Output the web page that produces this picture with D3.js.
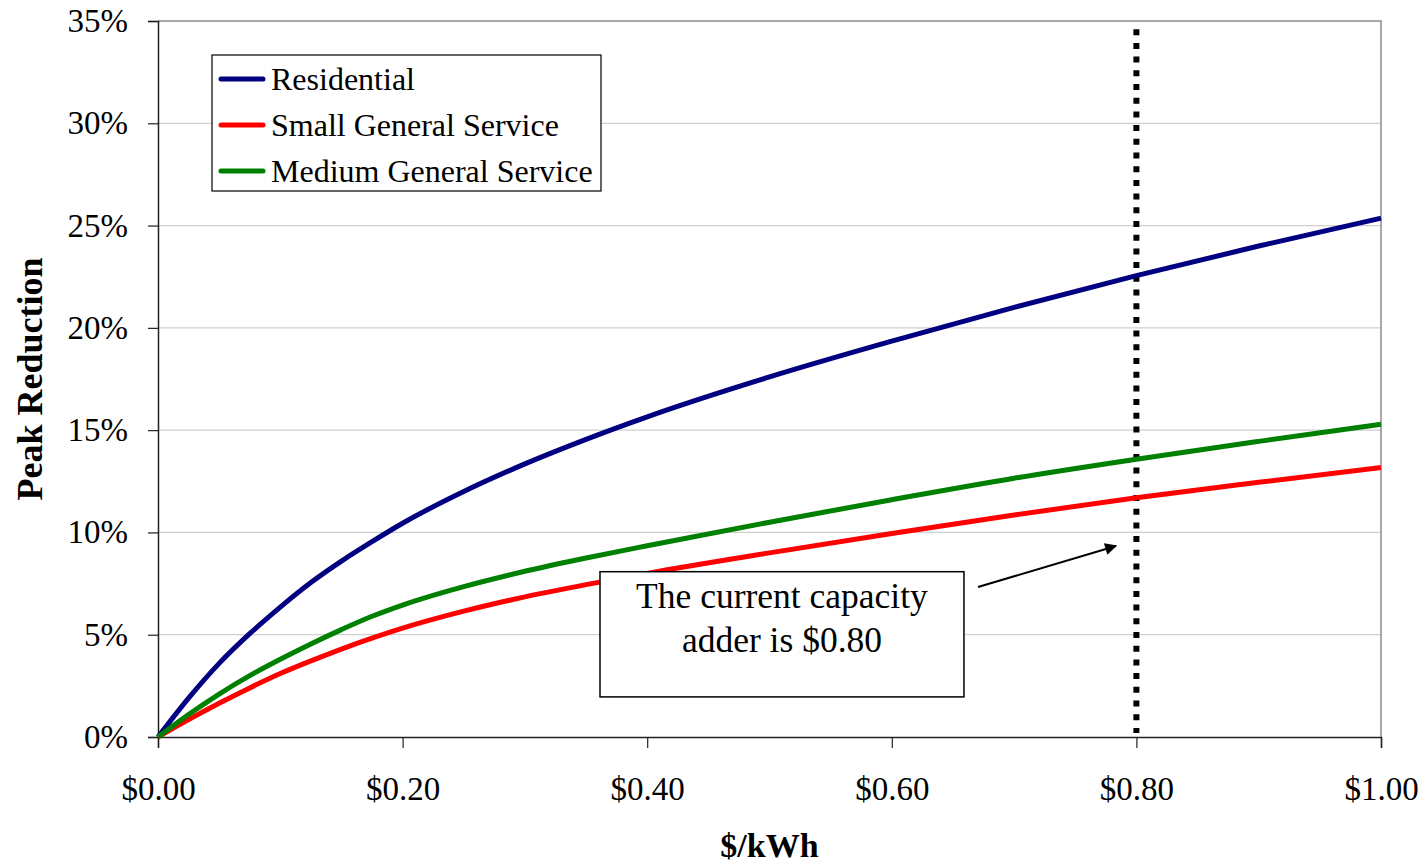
<!DOCTYPE html>
<html>
<head>
<meta charset="utf-8">
<script src="https://cdn.jsdelivr.net/npm/d3@7"></script>
<style>
  body { margin: 0; background: #fff; }
  svg text { font-family: "Liberation Serif", "Times New Roman", serif; fill: #000; }
</style>
</head>
<body>
<div id="chart"></div>
<script>
// price points ($/kWh)
const prices = [0, 0.025, 0.05, 0.075, 0.1, 0.125, 0.15, 0.175, 0.2, 0.25, 0.3, 0.35, 0.4, 0.5, 0.6, 0.7, 0.8, 0.9, 1.0];
// peak reduction (%) per class
const residential = [0, 1.9, 3.6, 5.05, 6.35, 7.55, 8.6, 9.55, 10.45, 12.0, 13.35, 14.55, 15.65, 17.6, 19.35, 21.0, 22.55, 24.0, 25.36];
const smallGS     = [0, 0.85, 1.65, 2.4, 3.1, 3.72, 4.3, 4.83, 5.32, 6.15, 6.85, 7.45, 8.0, 9.0, 9.95, 10.85, 11.7, 12.45, 13.17];
const mediumGS    = [0, 1.1, 2.1, 3.0, 3.8, 4.55, 5.25, 5.9, 6.45, 7.35, 8.1, 8.75, 9.35, 10.5, 11.6, 12.65, 13.58, 14.45, 15.29];

const seriesNames = ["Residential", "Small General Service", "Medium General Service"];
const seriesColors = ["#000080", "#ff0000", "#008000"];
const seriesValues = [residential, smallGS, mediumGS];

const xTicks = [0, 0.2, 0.4, 0.6, 0.8, 1.0];
const yTicks = [0, 5, 10, 15, 20, 25, 30, 35];

const capacityAdder = 0.8;
const noteLines = ["The current capacity", "adder is $0.80"];

// chart size
const W = 1426, H = 866;
const margin = {top: 21, right: 45, bottom: 129, left: 158};
const width = W - margin.left - margin.right;
const height = H - margin.top - margin.bottom;

const svg = d3.select("#chart").append("svg")
  .attr("width", W)
  .attr("height", H);

const g = svg.append("g")
  .attr("transform", `translate(${margin.left},${margin.top})`);

const x = d3.scaleLinear().domain([0, 1]).range([0, width]);
const y = d3.scaleLinear().domain([0, 35]).range([height, 0]);

// gridlines
g.append("g")
  .selectAll("line")
  .data(yTicks.filter(d => d > 0 && d < 35))
  .join("line")
  .attr("x1", 0).attr("x2", width)
  .attr("y1", d => y(d)).attr("y2", d => y(d))
  .attr("stroke", "#cfcfcf")
  .attr("stroke-width", 1.2);

// plot border top/right
g.append("path")
  .attr("d", `M0,${y(35)}H${width}V${height}`)
  .attr("fill", "none")
  .attr("stroke", "#8c8c8c")
  .attr("stroke-width", 1.5);

// axes
const yAxis = d3.axisLeft(y)
  .tickValues(yTicks)
  .tickSize(10)
  .tickPadding(20)
  .tickFormat(d => d + "%");

const gy = g.append("g").call(yAxis);
gy.select(".domain").attr("stroke", "#222").attr("stroke-width", 1.5);
gy.selectAll(".tick line").attr("stroke", "#222").attr("stroke-width", 1.2);
gy.selectAll("text").style("font-size", "33px");

const xAxis = d3.axisBottom(x)
  .tickValues(xTicks)
  .tickSize(11)
  .tickPadding(29)
  .tickFormat(d3.format("$.2f"));

const gx = g.append("g")
  .attr("transform", `translate(0,${height})`)
  .call(xAxis);
gx.select(".domain").attr("stroke", "#222").attr("stroke-width", 1.5);
gx.selectAll(".tick line").attr("stroke", "#222").attr("stroke-width", 1.2);
gx.selectAll("text").style("font-size", "33px");

// axis titles
svg.append("text")
  .attr("transform", `translate(42,${margin.top + height / 2}) rotate(-90)`)
  .attr("text-anchor", "middle")
  .style("font-size", "36px")
  .style("font-weight", "bold")
  .text("Peak Reduction");

svg.append("text")
  .attr("x", margin.left + width / 2)
  .attr("y", 857)
  .attr("text-anchor", "middle")
  .style("font-size", "34px")
  .style("font-weight", "bold")
  .text("$/kWh");

// dotted marker at current capacity adder
g.append("line")
  .attr("x1", x(capacityAdder)).attr("x2", x(capacityAdder))
  .attr("y1", y(34.6)).attr("y2", height - 4)
  .attr("stroke", "#000")
  .attr("stroke-width", 6)
  .attr("stroke-dasharray", "6,7.7");

// curves
const line = d3.line()
  .x((d, i) => x(prices[i]))
  .y(d => y(d))
  .curve(d3.curveMonotoneX);

g.append("g")
  .selectAll("path")
  .data(seriesValues)
  .join("path")
  .attr("d", d => line(d))
  .attr("fill", "none")
  .attr("stroke", (d, i) => seriesColors[i])
  .attr("stroke-width", 5)
  .attr("stroke-linejoin", "round");

// annotation box
const box = {x0: 0.3614, x1: 0.659, yTop: 8.08, yBot: 1.96};
g.append("rect")
  .attr("x", x(box.x0))
  .attr("y", y(box.yTop))
  .attr("width", x(box.x1) - x(box.x0))
  .attr("height", y(box.yBot) - y(box.yTop))
  .attr("fill", "#fff")
  .attr("stroke", "#000")
  .attr("stroke-width", 1.5);

g.append("g")
  .selectAll("text")
  .data(noteLines)
  .join("text")
  .attr("x", x((box.x0 + box.x1) / 2))
  .attr("y", (d, i) => y(box.yTop) + 36 + i * 44)
  .attr("text-anchor", "middle")
  .style("font-size", "35.5px")
  .text(d => d);

// arrow
svg.append("defs").append("marker")
  .attr("id", "arrow")
  .attr("viewBox", "0 0 10 10")
  .attr("refX", 9).attr("refY", 5)
  .attr("markerWidth", 7).attr("markerHeight", 6)
  .attr("markerUnits", "strokeWidth")
  .attr("orient", "auto")
  .append("path")
  .attr("d", "M0,0L10,5L0,10z")
  .attr("fill", "#000");

g.append("line")
  .attr("x1", x(0.6705)).attr("y1", y(7.33))
  .attr("x2", x(0.7833)).attr("y2", y(9.34))
  .attr("stroke", "#000")
  .attr("stroke-width", 2)
  .attr("marker-end", "url(#arrow)");

// legend
const legend = g.append("g").attr("transform", "translate(54,34)");
legend.append("rect")
  .attr("width", 389).attr("height", 136)
  .attr("fill", "#fff")
  .attr("stroke", "#000")
  .attr("stroke-width", 1.2);

const items = legend.selectAll("g.item")
  .data(seriesNames)
  .join("g")
  .attr("class", "item")
  .attr("transform", (d, i) => `translate(0,${24 + i * 46})`);

items.append("line")
  .attr("x1", 9).attr("x2", 51)
  .attr("stroke", (d, i) => seriesColors[i])
  .attr("stroke-width", 5)
  .attr("stroke-linecap", "round");

items.append("text")
  .attr("x", 59)
  .attr("dy", "0.33em")
  .style("font-size", "32px")
  .text(d => d);
</script>
</body>
</html>
